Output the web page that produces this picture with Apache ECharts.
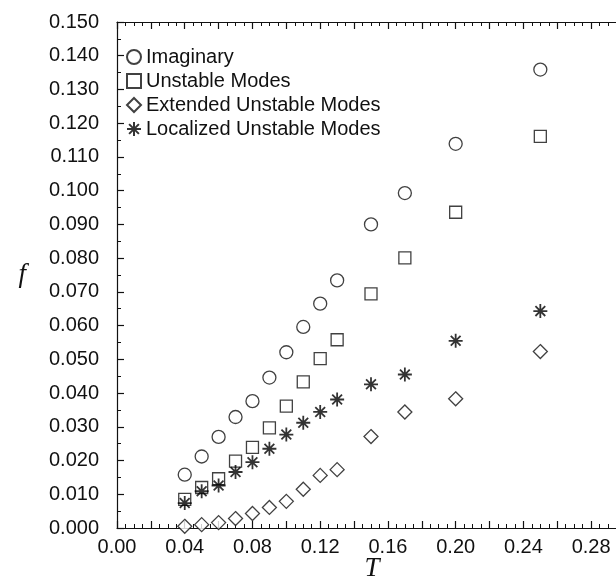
<!DOCTYPE html>
<html>
<head>
<meta charset="utf-8">
<script src="https://cdn.jsdelivr.net/npm/echarts@6/dist/echarts.min.js"></script>
<style>
  html, body { margin: 0; padding: 0; background: #fff; }
  #chart { width: 616px; height: 576px; }
</style>
</head>
<body>
<div id="chart"></div>
<script>
// temperature values shared by all four series
const temps = [0.04, 0.05, 0.06, 0.07, 0.08, 0.09, 0.10, 0.11, 0.12, 0.13, 0.15, 0.17, 0.20, 0.25];
const imaginary = [0.0158, 0.0212, 0.0270, 0.0329, 0.0376, 0.0446, 0.0521, 0.0596, 0.0665, 0.0734, 0.0900, 0.0993, 0.1139, 0.1359];
const unstable = [0.0085, 0.0120, 0.0146, 0.0198, 0.0239, 0.0297, 0.0361, 0.0433, 0.0502, 0.0558, 0.0694, 0.0801, 0.0936, 0.1161];
const extended = [0.0005, 0.0010, 0.0016, 0.0028, 0.0043, 0.0061, 0.0079, 0.0115, 0.0156, 0.0173, 0.0271, 0.0344, 0.0383, 0.0523];
const localized = [0.0074, 0.0109, 0.0126, 0.0166, 0.0195, 0.0235, 0.0277, 0.0312, 0.0344, 0.0381, 0.0426, 0.0455, 0.0555, 0.0643];
const seriesNames = ["Imaginary", "Unstable Modes", "Extended Unstable Modes", "Localized Unstable Modes"];

const font = "'Liberation Sans', Arial, sans-serif";
const starPath = "path://M10 0 L10 20 M0 10 L20 10 M3 3 L17 17 M3 17 L17 3";

function pairs(vals) {
  return temps.map((t, i) => [t, vals[i]]);
}

const chart = echarts.init(document.getElementById("chart"), null, { renderer: "canvas" });

const lineStyle = { color: "#111", width: 1.2 };

const baseX = {
  type: "value",
  min: 0,
  max: 0.30,
  interval: 0.02,
  axisLine: { show: true, onZero: false, lineStyle: lineStyle },
  axisTick: { show: true, inside: true, length: 7, lineStyle: lineStyle },
  minorTick: { show: true, splitNumber: 4, length: 4, lineStyle: { color: "#111", width: 1 } },
  splitLine: { show: false }
};

const baseY = {
  type: "value",
  min: 0,
  max: 0.15,
  interval: 0.01,
  axisLine: { show: true, onZero: false, lineStyle: lineStyle },
  axisTick: { show: true, inside: true, length: 7, lineStyle: lineStyle },
  minorTick: { show: true, splitNumber: 2, length: 4, lineStyle: { color: "#111", width: 1 } },
  splitLine: { show: false }
};

const options = {
  animation: false,
  backgroundColor: "#fff",
  grid: { left: 117, right: -9, top: 22, bottom: 48, outerBoundsMode: "none", containLabel: false },
  legend: {
    orient: "vertical",
    left: 126,
    top: 47,
    padding: 0,
    itemGap: 4,
    itemWidth: 14,
    itemHeight: 14,
    data: seriesNames,
    textStyle: { fontFamily: font, fontSize: 20, color: "#111", lineHeight: 20 }
  },
  xAxis: [
    Object.assign({}, baseX, {
      position: "bottom",
      name: "T",
      nameLocation: "middle",
      nameGap: 27,
      nameMoveOverlap: false,
      nameTextStyle: { fontFamily: "'Liberation Serif', serif", fontStyle: "italic", fontSize: 27, color: "#111", padding: [0, 0, 0, 2] },
      axisLabel: {
        margin: 9,
        fontFamily: font,
        fontSize: 20,
        color: "#111",
        formatter: function (v) {
          const k = v / 0.04;
          return Math.abs(k - Math.round(k)) < 1e-6 ? v.toFixed(2) : "";
        }
      }
    }),
    Object.assign({}, baseX, { position: "top", axisLabel: { show: false } })
  ],
  yAxis: [
    Object.assign({}, baseY, {
      position: "left",
      name: "f",
      nameLocation: "middle",
      nameRotate: 0,
      nameGap: 91,
      nameMoveOverlap: false,
      nameTextStyle: { fontFamily: "'Liberation Serif', serif", fontStyle: "italic", fontSize: 27, color: "#111", padding: [0, 0, 10, 0] },
      axisLabel: {
        margin: 18,
        fontFamily: font,
        fontSize: 20,
        color: "#111",
        formatter: function (v) { return v.toFixed(3); }
      }
    }),
    Object.assign({}, baseY, { position: "right", axisLabel: { show: false } })
  ],
  series: [
    {
      name: seriesNames[0],
      type: "scatter",
      symbol: "circle",
      symbolSize: 13,
      itemStyle: { color: "#fff", borderColor: "#111", borderWidth: 1.3 },
      data: pairs(imaginary)
    },
    {
      name: seriesNames[1],
      type: "scatter",
      symbol: "rect",
      symbolSize: 12,
      itemStyle: { color: "#fff", borderColor: "#111", borderWidth: 1.3 },
      data: pairs(unstable)
    },
    {
      name: seriesNames[2],
      type: "scatter",
      symbol: "diamond",
      symbolSize: 14,
      itemStyle: { color: "#fff", borderColor: "#111", borderWidth: 1.3 },
      data: pairs(extended)
    },
    {
      name: seriesNames[3],
      type: "scatter",
      symbol: starPath,
      symbolSize: 14,
      itemStyle: { color: "rgba(0,0,0,0)", borderColor: "#000", borderWidth: 1.8 },
      data: pairs(localized)
    }
  ]
};

chart.setOption(options);
</script>
</body>
</html>
